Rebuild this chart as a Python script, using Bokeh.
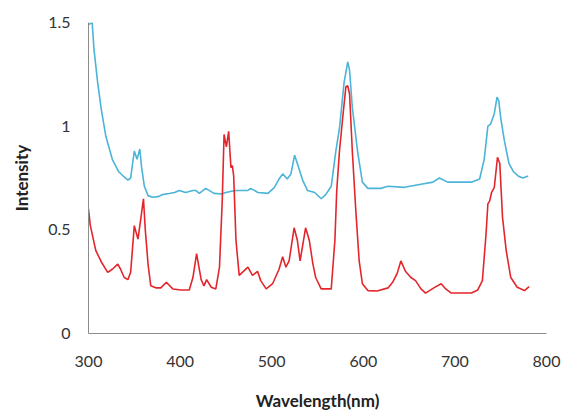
from bokeh.plotting import figure
from bokeh.models import Range1d, FixedTicker
from bokeh.embed import file_html
from bokeh.resources import INLINE

# Blue spectrum (upper)
blue_wl = [300, 304, 306, 310, 314, 319, 326, 333, 339, 343, 346, 350, 353, 356, 358, 361,
           365, 370, 376, 381, 388, 394, 399, 406, 414, 417, 421, 428, 437, 445, 450, 456,
           462, 467, 474, 477, 485, 496, 503, 508, 512, 517, 521, 525, 528, 534, 539, 547,
           554, 559, 565, 570, 574, 579, 583, 585, 588, 594, 599, 605, 619, 627, 645, 663,
           676, 683, 692, 703, 718, 727, 732, 736, 739, 743, 746, 748, 750, 754, 759, 764,
           769, 774, 780]
blue_int = [1.49, 1.50, 1.37, 1.21, 1.08, 0.95, 0.84, 0.78, 0.755, 0.74, 0.75, 0.88, 0.84, 0.89, 0.80, 0.71,
            0.665, 0.657, 0.66, 0.67, 0.675, 0.68, 0.69, 0.68, 0.69, 0.69, 0.676, 0.70, 0.676, 0.673, 0.68, 0.686,
            0.69, 0.69, 0.69, 0.70, 0.68, 0.676, 0.705, 0.745, 0.77, 0.745, 0.77, 0.86, 0.82, 0.737, 0.69, 0.68,
            0.65, 0.67, 0.71, 0.88, 0.99, 1.21, 1.31, 1.27, 1.09, 0.87, 0.73, 0.70, 0.70, 0.71, 0.705, 0.72,
            0.73, 0.75, 0.73, 0.73, 0.73, 0.745, 0.84, 1.00, 1.01, 1.06, 1.14, 1.12, 1.04, 0.93, 0.82, 0.78,
            0.76, 0.75, 0.76]

# Red spectrum (lower)
red_wl = [300, 302, 308, 314, 321, 326, 332, 335, 339, 343, 346, 350, 354, 357, 360, 362, 365, 368,
          374, 379, 385, 392, 401, 410, 414, 418, 423, 426, 429, 434, 439, 443, 446, 448, 450.5, 453,
          455.5, 457, 458.5, 461, 464.5, 468, 474, 479, 484.5, 488, 494, 501, 508, 512, 515.5, 519,
          524.5, 528, 531, 537, 541, 545, 548, 554, 565, 569, 571, 574, 577.5, 581, 583, 585, 588,
          592, 595.5, 599, 605, 615, 627, 632, 637, 641, 646, 652, 657, 663, 668, 677, 685, 690, 696,
          718, 725, 730, 734, 736, 738, 740, 743, 746.5, 749, 752, 756, 761, 768, 776, 781]
red_int = [0.60, 0.52, 0.40, 0.345, 0.295, 0.31, 0.335, 0.31, 0.27, 0.26, 0.295, 0.52, 0.455, 0.55, 0.65, 0.50, 0.335, 0.23,
           0.22, 0.22, 0.247, 0.215, 0.21, 0.21, 0.27, 0.385, 0.26, 0.23, 0.26, 0.223, 0.215, 0.32, 0.64, 0.96, 0.90, 0.975,
           0.80, 0.81, 0.76, 0.45, 0.28, 0.295, 0.32, 0.28, 0.30, 0.255, 0.215, 0.24, 0.31, 0.37, 0.32, 0.35,
           0.51, 0.45, 0.35, 0.51, 0.45, 0.335, 0.27, 0.215, 0.215, 0.45, 0.69, 0.88, 1.04, 1.19, 1.195, 1.155, 0.88,
           0.58, 0.35, 0.24, 0.207, 0.205, 0.22, 0.247, 0.29, 0.35, 0.30, 0.27, 0.255, 0.215, 0.195, 0.22, 0.24, 0.215, 0.195,
           0.195, 0.21, 0.255, 0.48, 0.625, 0.64, 0.68, 0.705, 0.85, 0.82, 0.56, 0.40, 0.27, 0.223, 0.207, 0.226]

x_ticks = [300, 400, 500, 600, 700, 800]
y_ticks = [0, 0.5, 1, 1.5]
y_tick_labels = {0: "0", 0.5: "0.5", 1: "1", 1.5: "1.5"}

FONT = "Lato"
AXIS_COLOR = "#8c8c8c"

p = figure(width=568, height=415, output_backend="svg", toolbar_location=None,
           x_range=Range1d(300, 800), y_range=Range1d(0, 1.5),
           min_border_left=88, min_border_right=22, min_border_top=22, min_border_bottom=82)
p.outline_line_color = None
p.xgrid.visible = False
p.ygrid.visible = False
p.background_fill_color = "white"
p.border_fill_color = "white"

p.line(blue_wl, blue_int, line_color="#4bb4d8", line_width=1.6)
p.line(red_wl, red_int, line_color="#e3262b", line_width=1.6)

for ax in (p.xaxis[0], p.yaxis[0]):
    ax.axis_line_color = AXIS_COLOR
    ax.axis_line_width = 1
    ax.major_tick_in = 0
    ax.major_tick_out = 0
    ax.minor_tick_in = 0
    ax.minor_tick_out = 0
    ax.major_label_text_font = FONT
    ax.major_label_text_font_size = "16px"
    ax.major_label_text_color = "#333333"
    ax.axis_label_text_font = FONT
    ax.axis_label_text_font_size = "17px"
    ax.axis_label_text_font_style = "bold"
    ax.axis_label_text_color = "#222222"

p.xaxis.ticker = FixedTicker(ticks=x_ticks)
p.yaxis.ticker = FixedTicker(ticks=y_ticks)
p.yaxis.major_label_overrides = y_tick_labels
p.xaxis.major_label_standoff = 22
p.yaxis.major_label_standoff = 18
p.xaxis.axis_label = "Wavelength(nm)"
p.yaxis.axis_label = "Intensity"
p.xaxis.axis_label_standoff = 20
p.yaxis.axis_label_standoff = 13

open("out.html", "w").write(file_html(p, INLINE))
